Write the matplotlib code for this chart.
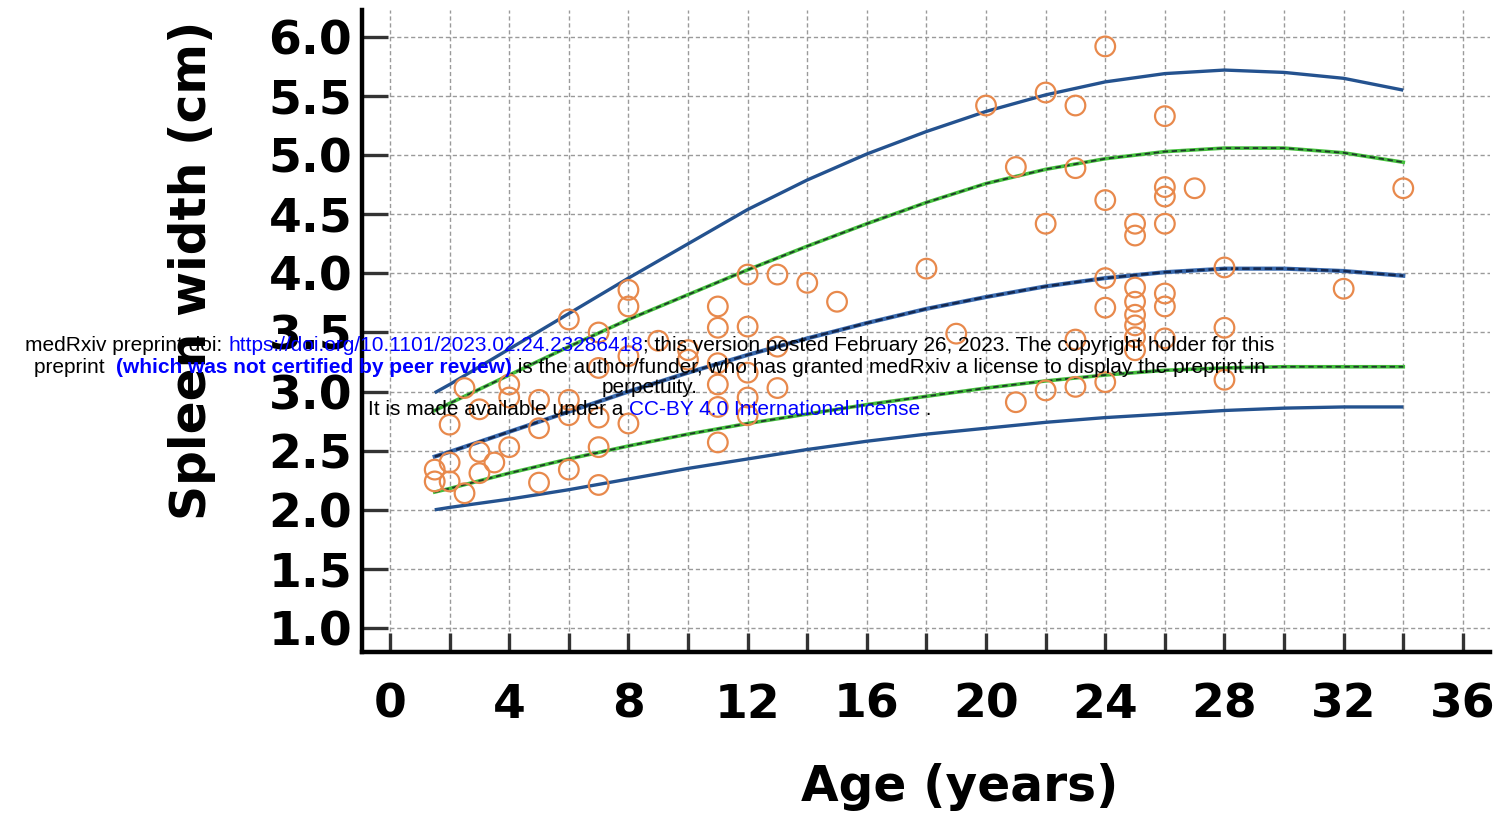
import matplotlib
matplotlib.use("Agg")
import matplotlib.pyplot as plt
from matplotlib.ticker import MultipleLocator, FuncFormatter

# ---------------- data ----------------
ages = [1.5, 1.5, 2, 2, 2, 2.5, 2.5, 3, 3, 3, 3.5,
        4, 4, 4, 5, 5, 5, 6, 6, 6, 6, 7, 7, 7, 7, 7,
        8, 8, 8, 8, 9, 10, 10, 11, 11, 11, 11, 11, 11,
        12, 12, 12, 12, 12, 13, 13, 13, 14, 15, 18, 19, 20,
        21, 21, 22, 22, 22, 23, 23, 23, 23,
        24, 24, 24, 24, 24,
        25, 25, 25, 25, 25, 25, 25, 25,
        26, 26, 26, 26, 26, 26, 26,
        27, 28, 28, 28, 32, 34]
widths = [2.34, 2.24, 2.72, 2.40, 2.24, 3.03, 2.14, 2.85, 2.49, 2.31, 2.40,
          3.06, 2.95, 2.53, 2.93, 2.69, 2.23, 3.61, 2.93, 2.80, 2.34, 3.50, 3.20, 2.78, 2.53, 2.21,
          3.86, 3.72, 3.30, 2.73, 3.43, 3.35, 3.27, 3.72, 3.54, 3.24, 3.06, 2.87, 2.57,
          3.99, 3.55, 3.16, 2.95, 2.80, 3.99, 3.38, 3.03, 3.92, 3.76, 4.04, 3.49, 5.42,
          4.90, 2.91, 5.53, 4.42, 3.01, 5.42, 4.89, 3.44, 3.04,
          5.92, 4.62, 3.96, 3.71, 3.08,
          4.42, 4.32, 3.88, 3.76, 3.65, 3.56, 3.46, 3.35,
          5.33, 4.73, 4.65, 4.42, 3.83, 3.72, 3.45,
          4.72, 4.05, 3.54, 3.10, 3.87, 4.72]

curve_age = [1.5, 2, 4, 6, 8, 10, 12, 14, 16, 18, 20, 22, 24, 26, 28, 30, 32, 34]
upper_solid = [2.99, 3.06, 3.36, 3.66, 3.96, 4.25, 4.54, 4.79, 5.01, 5.20, 5.37, 5.51, 5.62, 5.69, 5.72, 5.70, 5.65, 5.55]
upper_dash = [2.84, 2.90, 3.14, 3.38, 3.61, 3.82, 4.03, 4.23, 4.42, 4.60, 4.76, 4.88, 4.97, 5.03, 5.06, 5.06, 5.02, 4.94]
middle_dash = [2.45, 2.49, 2.66, 2.83, 3.00, 3.16, 3.31, 3.45, 3.58, 3.70, 3.80, 3.89, 3.96, 4.01, 4.04, 4.04, 4.02, 3.98]
lower_dash = [2.15, 2.18, 2.31, 2.43, 2.54, 2.64, 2.73, 2.81, 2.89, 2.96, 3.03, 3.09, 3.14, 3.18, 3.20, 3.21, 3.21, 3.21]
lower_solid = [2.00, 2.02, 2.09, 2.17, 2.26, 2.35, 2.43, 2.51, 2.58, 2.64, 2.69, 2.74, 2.78, 2.81, 2.84, 2.86, 2.87, 2.87]

# ---------------- figure ----------------
W, H = 1500, 821
fig = plt.figure(figsize=(W / 100, H / 100), dpi=100)
ax = fig.add_axes([362 / W, 1 - 652 / H, (1490 - 362) / W, (652 - 10) / H])

navy = "#24528f"
green = "#44c03c"
dark = "#1e3a2a"
midblue = "#3a6bb0"
orange = "#e8894c"

ax.plot(curve_age, upper_solid, color=navy, lw=2.4, solid_capstyle="butt", solid_joinstyle="round", zorder=3)
ax.plot(curve_age, lower_solid, color=navy, lw=2.4, solid_capstyle="butt", solid_joinstyle="round", zorder=3)
for ys in (upper_dash, lower_dash):
    ax.plot(curve_age, ys, color=green, lw=2.6, zorder=3)
    ax.plot(curve_age, ys, color=dark, lw=1.3, ls=(0, (3, 2)), zorder=3.1)
ax.plot(curve_age, middle_dash, color=midblue, lw=3.0, zorder=3)
ax.plot(curve_age, middle_dash, color="#14284f", lw=1.8, ls=(0, (3, 1.5)), zorder=3.1)

ax.scatter(ages, widths, s=200, facecolors="none", edgecolors=orange, linewidths=1.6, zorder=4)

ax.set_xlim(-0.94, 36.91)
ax.set_ylim(0.797, 6.228)

ax.xaxis.set_major_locator(MultipleLocator(2))
ax.yaxis.set_major_locator(MultipleLocator(0.5))
ax.xaxis.set_major_formatter(FuncFormatter(lambda v, p: f"{int(round(v))}" if int(round(v)) % 4 == 0 and v >= 0 else ""))
ax.yaxis.set_major_formatter(FuncFormatter(lambda v, p: f"{v:.1f}" if v >= 0.99 else ""))

ax.grid(True, color="#9a9a9a", lw=1.0, ls=(0, (3, 2)), zorder=0)
ax.set_axisbelow(True)

for s in ("top", "right"):
    ax.spines[s].set_visible(False)
for s in ("left", "bottom"):
    ax.spines[s].set_linewidth(3.2)
    ax.spines[s].set_color("black")

ax.tick_params(axis="y", direction="in", length=19, width=2.4, color="#333333", pad=7)
ax.tick_params(axis="x", direction="in", length=14, width=2.4, color="#333333", pad=22)
for lab in ax.get_xticklabels() + ax.get_yticklabels():
    lab.set_fontfamily("DejaVu Sans")
    lab.set_fontweight("bold")
    lab.set_fontsize(34)

fig.text(192 / W, 1 - 270 / H, "Spleen width (cm)", rotation=90, ha="center", va="center",
         family="DejaVu Sans", weight="bold", fontsize=35)
fig.text(960 / W, 1 - 787 / H, "Age (years)", ha="center", va="center",
         family="DejaVu Sans", weight="bold", fontsize=35)

# ---------------- medRxiv overlay ----------------
blue = "#0000ff"
lines = [
    ([("medRxiv preprint doi: ", "black", "normal"),
      ("https://doi.org/10.1101/2023.02.24.23286418", blue, "normal"),
      ("; this version posted February 26, 2023. The copyright holder for this", "black", "normal")], 351),
    ([("preprint  ", "black", "normal"),
      ("(which was not certified by peer review)", blue, "bold"),
      (" is the author/funder, who has granted medRxiv a license to display the preprint in", "black", "normal")], 373),
    ([("perpetuity.", "black", "normal")], 393),
    ([("It is made available under a ", "black", "normal"),
      ("CC-BY 4.0 International license", blue, "normal"),
      (" .", "black", "normal")], 415),
]
created = []
for pieces, ybase in lines:
    ts = []
    for s, c, wgt in pieces:
        t = fig.text(0, 1 - ybase / H, s, color=c, fontweight=wgt, fontsize=15,
                     family="Liberation Sans", ha="left", va="baseline", zorder=10)
        ts.append(t)
    created.append(ts)

fig.canvas.draw()
r = fig.canvas.get_renderer()
for ts in created:
    ws = [t.get_window_extent(r).width for t in ts]
    total = sum(ws)
    x = 650 - total / 2
    for t, w in zip(ts, ws):
        t.set_x(x / W)
        x += w

fig.savefig("out.png", dpi=100)
